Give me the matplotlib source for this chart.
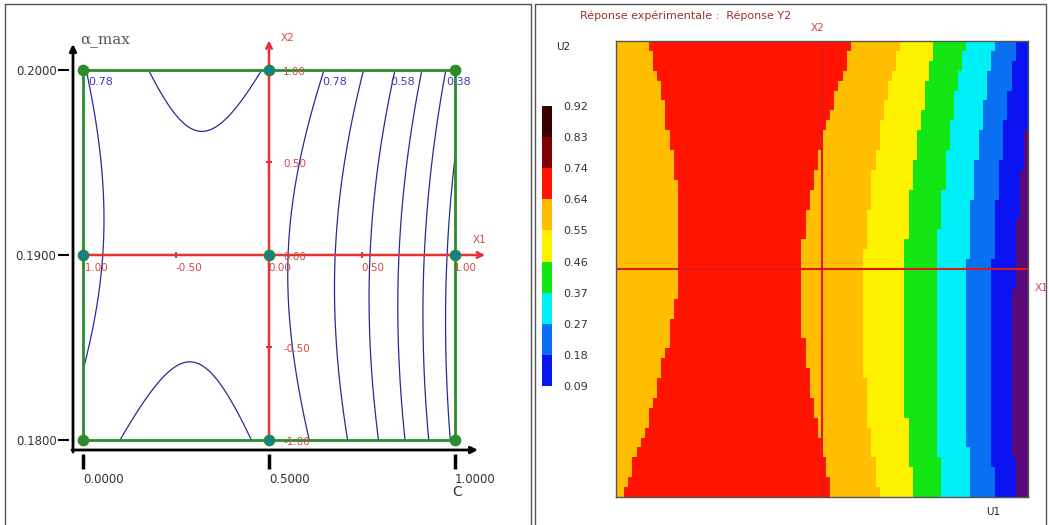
import matplotlib
matplotlib.use('Agg')
import matplotlib as mpl
import matplotlib.pyplot as plt
import numpy as np
from matplotlib.colors import ListedColormap, BoundaryNorm
from matplotlib.patches import Rectangle

W, H = 1049, 525

# quadratic response models in coded units X1, X2
# order: b0, b1, b2, b11, b22, b12
y1_coef = [0.809, -0.250, 0.008, -0.316, 0.055, 0.033]
y2_coef = [0.617, -0.260, 0.0125, -0.325, 0.0524, 0.0374]

# left panel: iso-response lines
left_levels = [0.28, 0.38, 0.48, 0.58, 0.68, 0.78, 0.88]
left_labels = ['0.78', '0.78', '0.58', '0.38']
left_label_c = [0.013, 0.642, 0.825, 0.976]

# natural variables and their coded equivalents
c_ticks = [0.0, 0.5, 1.0]
c_ticklabels = ['0.0000', '0.5000', '1.0000']
alpha_ticks = [0.18, 0.19, 0.20]
alpha_ticklabels = ['0.1800', '0.1900', '0.2000']
coded_ticks = [-1.0, -0.5, 0.0, 0.5, 1.0]
coded_ticklabels = ['-1.00', '-0.50', '0.00', '0.50', '1.00']

# experimental design points (3x3 grid)
design_c = [0.0, 0.5, 1.0]
design_alpha = [0.18, 0.19, 0.20]

# right panel: coloured levels
right_levels = [0.09, 0.18, 0.27, 0.37, 0.46, 0.55, 0.64, 0.74, 0.83, 0.92]
right_colors = ['#0a14f0', '#0a70f2', '#00f0f8', '#14e614', '#fff200',
                '#ffbe00', '#ff1400', '#800000', '#3a0000']
below_color = '#5a0a78'

RED = '#e63232'
GREEN = '#2c8c2c'


def model(coef, x1, x2):
    b0, b1, b2, b11, b22, b12 = coef
    return b0 + b1 * x1 + b2 * x2 + b11 * x1 ** 2 + b22 * x2 ** 2 + b12 * x1 * x2


def fbox(x, y, w, h):
    # pixel box (top-left origin) -> figure fraction
    return [x / W, 1 - (y + h) / H, w / W, h / H]


fig = plt.figure(figsize=(W / 100, H / 100), dpi=100)

# background layer in pixel coordinates (frames, black axes)
bg = fig.add_axes([0, 0, 1, 1], zorder=0)
bg.set_xlim(0, W)
bg.set_ylim(H, 0)
bg.axis('off')
bg.add_patch(Rectangle((5, 4), 526, 540, fill=False, ec='#555555', lw=1))
bg.add_patch(Rectangle((535, 4), 511, 540, fill=False, ec='#555555', lw=1))

arrow_k = dict(arrowstyle='-|>', color='black', lw=2, mutation_scale=10,
               shrinkA=0, shrinkB=0)
bg.annotate('', xy=(73, 44), xytext=(73, 452), arrowprops=arrow_k)
bg.annotate('', xy=(478, 450), xytext=(72, 450), arrowprops=arrow_k)
bg.text(80, 40, 'α_max', family='DejaVu Serif', color='#555555', fontsize=11,
        ha='left', va='center')
bg.text(457, 492, 'C', fontsize=10, color='#333333', ha='center', va='center')

# ---------------- left panel ----------------
ax1 = fig.add_axes(fbox(83, 70, 372, 370), zorder=2)
ax1.set_facecolor('none')
ax1.set_xlim(0, 1)
ax1.set_ylim(0.18, 0.20)
for s in ax1.spines.values():
    s.set_visible(False)
ax1.spines['left'].set_position(('outward', 10))
ax1.spines['bottom'].set_position(('outward', 10))
ax1.set_xticks(c_ticks)
ax1.set_xticklabels(c_ticklabels)
ax1.set_yticks(alpha_ticks)
ax1.set_yticklabels(alpha_ticklabels)
for lab in ax1.get_xticklabels():
    lab.set_ha('left')
ax1.tick_params(axis='x', direction='out', length=11, width=2.5, pad=3,
                labelsize=8.5, labelcolor='#333333')
ax1.tick_params(axis='y', direction='out', length=8, width=1.5, pad=1,
                labelsize=8.5, labelcolor='#333333')

g1 = np.linspace(-1, 1, 201)
X1, X2 = np.meshgrid(g1, g1)
F1 = model(y1_coef, X1, X2)
ax1.contour((X1 + 1) / 2, 0.19 + 0.01 * X2, F1, levels=left_levels,
            colors='#2a2a96', linewidths=0.9)

ax1.add_patch(Rectangle((0, 0.18), 1, 0.02, fill=False, ec=GREEN, lw=2,
                        clip_on=False, zorder=3))

# coded axes
red_arrow = dict(arrowstyle='->', color=RED, lw=1.8, shrinkA=0, shrinkB=0,
                 mutation_scale=10)
ax1.annotate('', xy=(1.081, 0.19), xytext=(0, 0.19), arrowprops=red_arrow,
             annotation_clip=False)
ax1.annotate('', xy=(0.5, 0.2016), xytext=(0.5, 0.18), arrowprops=red_arrow,
             annotation_clip=False)
for t, lab in zip(coded_ticks, coded_ticklabels):
    c = (t + 1) / 2
    a = 0.19 + 0.01 * t
    if t in (-0.5, 0.5):
        ax1.plot([c], [0.19], marker='|', ms=5, mew=1.5, color=RED, clip_on=False)
        ax1.plot([0.5], [a], marker='_', ms=5, mew=1.5, color=RED, clip_on=False)
    ax1.annotate(lab, (c, 0.19), xytext=(-1, -13), textcoords='offset pixels',
                 ha='left', va='center', fontsize=7.5, color='#d04848',
                 annotation_clip=False, zorder=5)
    ax1.annotate(lab, (0.5, a), xytext=(14, -2), textcoords='offset pixels',
                 ha='left', va='center', fontsize=7.5, color='#d04848',
                 annotation_clip=False, zorder=5)
ax1.annotate('X1', (1.081, 0.19), xytext=(-6, 15), textcoords='offset pixels',
             ha='center', va='center', fontsize=7.5, color='#d04848',
             annotation_clip=False)
ax1.annotate('X2', (0.5, 0.2016), xytext=(19, 2), textcoords='offset pixels',
             ha='center', va='center', fontsize=7.5, color='#d04848',
             annotation_clip=False)

# design points
dc, da = np.meshgrid(design_c, design_alpha)
dc, da = dc.ravel(), da.ravel()
corner = (dc != 0.5) & (da != 0.19)
ax1.scatter(dc[corner], da[corner], s=55, color=GREEN, ec=GREEN, zorder=6,
            clip_on=False)
ax1.scatter(dc[~corner], da[~corner], s=55, color='#13808e', ec=GREEN, lw=1,
            zorder=6, clip_on=False)

for c, lab in zip(left_label_c, left_labels):
    ax1.annotate(lab, (c, 0.20), xytext=(0, -12), textcoords='offset pixels',
                 ha='left', va='center', fontsize=8, color='#3c3cb4',
                 annotation_clip=False, zorder=5)

# ---------------- right panel ----------------
ax2 = fig.add_axes(fbox(616, 41, 412, 456), zorder=2)
nx, ny = 100, 46
xe = np.linspace(-1, 1, nx + 1)
ye = np.linspace(-1, 1, ny + 1)
XC, YC = np.meshgrid((xe[:-1] + xe[1:]) / 2, (ye[:-1] + ye[1:]) / 2)
F2 = model(y2_coef, XC, YC)
cmap = ListedColormap(right_colors)
cmap.set_under(below_color)
cmap.set_over(right_colors[-1])
norm = BoundaryNorm(right_levels, cmap.N)
ax2.pcolormesh(xe, ye, F2, cmap=cmap, norm=norm)
ax2.axhline(0, color='#e01818', lw=1.5)
ax2.axvline(0, color='#e01818', lw=1.5)
ax2.set_xlim(-1, 1)
ax2.set_ylim(-1, 1)
ax2.set_xticks([])
ax2.set_yticks([])
for s in ax2.spines.values():
    s.set_color('#555555')
    s.set_linewidth(1)

cax = fig.add_axes(fbox(542, 106, 10, 280), zorder=2)
cb = fig.colorbar(mpl.cm.ScalarMappable(norm=norm, cmap=cmap), cax=cax,
                  ticks=right_levels)
cb.outline.set_visible(False)
cb.ax.set_yticklabels([f'{v:.2f}' for v in right_levels])
cax.tick_params(length=0, pad=8, labelsize=8, labelcolor='#333333')

bg.text(580, 16, 'Réponse expérimentale :  Réponse Y2', fontsize=8,
        color='#993333', ha='left', va='center')
bg.text(818, 28, 'X2', fontsize=7.5, color='#d04848', ha='center', va='center')
bg.text(556, 47, 'U2', fontsize=7.5, color='#222222', ha='left', va='center')
bg.text(993, 512, 'U1', fontsize=7.5, color='#222222', ha='center', va='center')
bg.text(1042, 288, 'X1', fontsize=7.5, color='#d04848', ha='center', va='center')

fig.savefig('out.png', dpi=100)
